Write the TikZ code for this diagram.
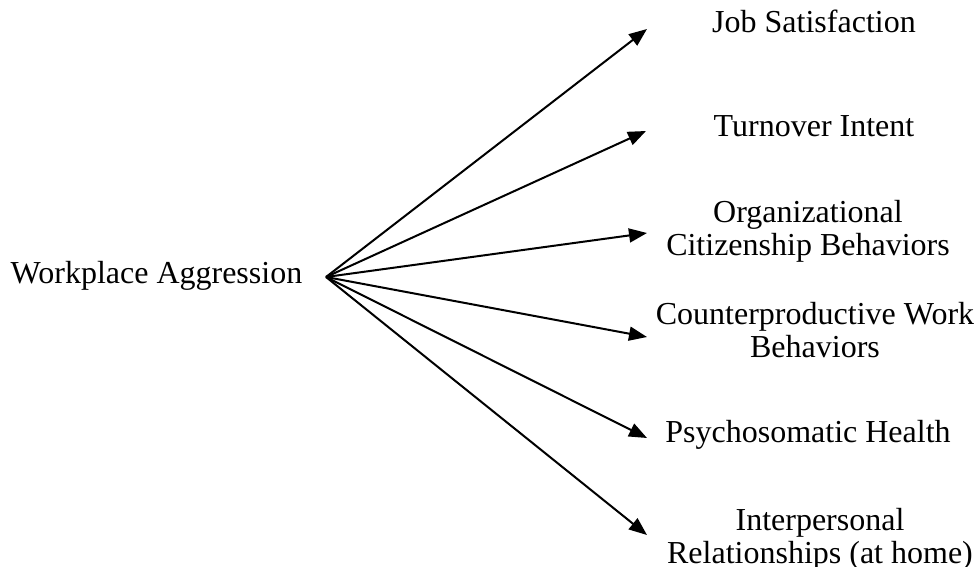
\documentclass[tikz,border=0pt]{standalone}
\usepackage{fontspec}
\setmainfont{Liberation Serif}
\usetikzlibrary{arrows.meta}

\begin{document}
\begin{tikzpicture}[
  x=0.5pt, y=-0.5pt,
  font=\fontsize{16}{16.4}\selectfont,
  lbl/.style={align=center, inner sep=0pt, anchor=base},
  arr/.style={-{Triangle[length=9pt, width=7pt]}, line width=1pt, draw=black}
]
\useasboundingbox (0,0) rectangle (980,567);

% ---------------- left: the one cause ----------------
\node[lbl] (aggr) at (156.5, 283) {Workplace Aggression};
\coordinate (hub) at (326, 277);

% ---------------- right: six outcomes ----------------
\node[lbl] (jobsat) at (814, 33) {Job Satisfaction};
\node[lbl] (turn) at (814, 137) {Turnover Intent};
\node[lbl] (ocb) at (808, 255) {Organizational\\Citizenship Behaviors};
\node[lbl] (cwb) at (815, 357) {Counterproductive Work\\Behaviors};
\node[lbl] (psy) at (808, 442) {Psychosomatic Health};
\node[lbl] (rel) at (820, 563) {Interpersonal\\Relationships (at home)};

\coordinate (t1) at (647, 29);
\coordinate (t2) at (646, 131);
\coordinate (t3) at (647, 233);
\coordinate (t4) at (647, 337);
\coordinate (t5) at (647, 438);
\coordinate (t6) at (647, 535);

\foreach \t in {t1,t2,t3,t4,t5,t6}
  \draw[arr] (hub) -- (\t);

\end{tikzpicture}
\end{document}
